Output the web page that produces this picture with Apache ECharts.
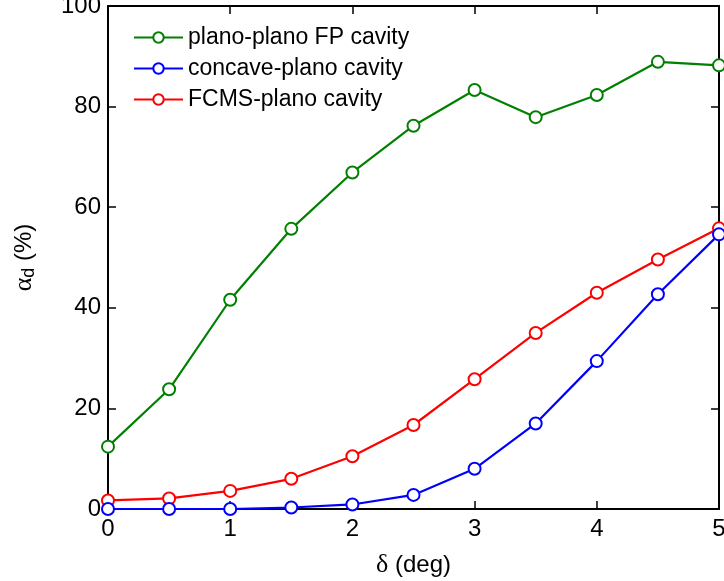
<!DOCTYPE html>
<html>
<head>
<meta charset="utf-8">
<script src="https://cdn.jsdelivr.net/npm/echarts@6/dist/echarts.min.js"></script>
<style>
  html, body { margin: 0; padding: 0; background: #fff; }
  #chart { width: 724px; height: 581px; }
</style>
</head>
<body>
<div id="chart"></div>
<script>
const delta = [0, 0.5, 1, 1.5, 2, 2.5, 3, 3.5, 4, 4.5, 5];
const planoPlano = [12.4, 23.8, 41.6, 55.7, 66.9, 76.2, 83.3, 77.9, 82.3, 88.9, 88.2];
const concavePlano = [0, 0, 0, 0.3, 0.9, 2.8, 8.0, 17.0, 29.4, 42.7, 54.6];
const fcmsPlano = [1.7, 2.1, 3.6, 6.0, 10.5, 16.7, 25.8, 35.0, 43.0, 49.6, 55.8];
const seriesNames = ["plano-plano FP cavity", "concave-plano cavity", "FCMS-plano cavity"];
const seriesColors = ["#008000", "#0000ff", "#ff0000"];

const FONT = "Liberation Sans, Arial, sans-serif";
const SERIF = "Liberation Serif, Times New Roman, serif";
const pairs = (ys) => delta.map((x, i) => [x, ys[i]]);

const chart = echarts.init(document.getElementById("chart"), null, { renderer: "canvas" });

const lineAxis = { show: true, onZero: false, lineStyle: { color: "#000", width: 2 } };
const inTick = { show: true, inside: true, length: 8, lineStyle: { color: "#000", width: 1.5 } };

chart.setOption({
  animation: false,
  grid: { left: 108, right: 5, top: 6, bottom: 72, containLabel: false, outerBoundsMode: "none" },
  legend: {
    left: 133, top: 26, orient: "vertical", padding: 0,
    itemWidth: 49, itemHeight: 13, itemGap: 8,
    textStyle: { fontFamily: FONT, fontSize: 23, color: "#000", padding: [0, 0, 0, 0] },
    data: seriesNames,
  },
  xAxis: [
    {
      type: "value", min: 0, max: 5, interval: 1, position: "bottom",
      axisLine: lineAxis, axisTick: inTick, splitLine: { show: false },
      axisLabel: { fontFamily: FONT, fontSize: 24, color: "#000", margin: 8 },
      name: "{s|δ}{a| (deg)}", nameLocation: "middle", nameGap: 43,
      nameTextStyle: {
        color: "#000",
        rich: {
          s: { fontFamily: SERIF, fontSize: 26, color: "#000" },
          a: { fontFamily: FONT, fontSize: 24, color: "#000" },
        },
      },
    },
    {
      type: "value", min: 0, max: 5, interval: 1, position: "top",
      axisLine: lineAxis, axisTick: inTick, splitLine: { show: false },
      axisLabel: { show: false },
    },
  ],
  yAxis: [
    {
      type: "value", min: 0, max: 100, interval: 20, position: "left",
      axisLine: lineAxis, axisTick: inTick, splitLine: { show: false },
      axisLabel: { fontFamily: FONT, fontSize: 24, color: "#000", margin: 7 },
      name: "{s|α}{d|d}{a| (%)}", nameLocation: "middle", nameGap: 70, nameRotate: 90,
      nameTextStyle: {
        color: "#000",
        rich: {
          s: { fontFamily: SERIF, fontSize: 26, color: "#000" },
          d: { fontFamily: FONT, fontSize: 18, color: "#000", verticalAlign: "bottom", padding: [10, 0, 0, 0] },
          a: { fontFamily: FONT, fontSize: 24, color: "#000" },
        },
      },
    },
    {
      type: "value", min: 0, max: 100, interval: 20, position: "right",
      axisLine: lineAxis, axisTick: inTick, splitLine: { show: false },
      axisLabel: { show: false },
    },
  ],
  series: [planoPlano, concavePlano, fcmsPlano].map((ys, i) => ({
    name: seriesNames[i],
    type: "line",
    data: pairs(ys),
    symbol: "emptyCircle",
    symbolSize: 12,
    showSymbol: true,
    clip: false,
    lineStyle: { color: seriesColors[i], width: 2.2 },
    itemStyle: { color: seriesColors[i], borderColor: seriesColors[i], borderWidth: 2 },
    z: i === 1 ? 3 : 2,
  })),
});
</script>
</body>
</html>
